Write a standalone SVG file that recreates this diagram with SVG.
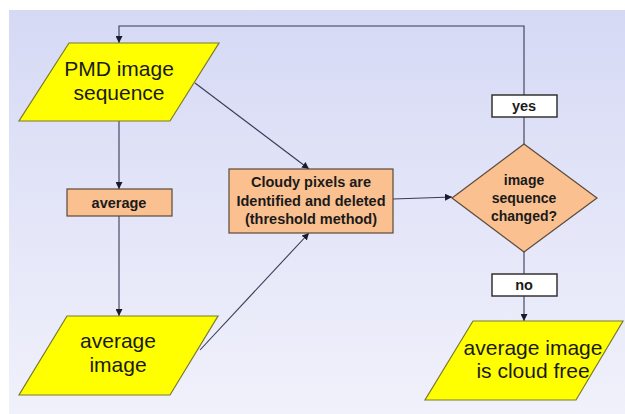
<svg xmlns="http://www.w3.org/2000/svg" width="625" height="414" viewBox="0 0 625 414">
  <defs>
    <linearGradient id="bg" x1="0" y1="0" x2="0" y2="1">
      <stop offset="0" stop-color="#d6d9f5"/>
      <stop offset="1" stop-color="#f1f1fb"/>
    </linearGradient>
    <marker id="arr" viewBox="0 0 10 10" refX="10" refY="5" markerWidth="7" markerHeight="7" orient="auto" markerUnits="userSpaceOnUse">
      <path d="M0,0 L10,5 L0,10 z" fill="#1a1a2e"/>
    </marker>
    <style>
      .io { fill: #ffff00; stroke: #7a7a30; stroke-width: 1.2; }
      .proc { fill: #fac090; stroke: #5a4a3a; stroke-width: 1.2; }
      .lbl { fill: #ffffff; stroke: #333333; stroke-width: 1.5; }
      .conn { fill: none; stroke: #3a3a55; stroke-width: 1.1; }
      .big { font-family: "Liberation Sans", Arial, sans-serif; font-size: 21px; fill: #1a1a1a; text-anchor: middle; }
      .small { font-family: "Liberation Sans", Arial, sans-serif; font-size: 14.5px; font-weight: bold; fill: #1a1a1a; text-anchor: middle; }
    </style>
  </defs>
  <rect x="0" y="0" width="625" height="414" fill="#ffffff"/>
  <rect x="9" y="10" width="616" height="404" fill="url(#bg)"/>

  <g id="connectors">
    <polyline class="conn" points="524,144 524,26 119,26 119,43" marker-end="url(#arr)"/>
    <line class="conn" x1="119" y1="121" x2="119" y2="189" marker-end="url(#arr)"/>
    <line class="conn" x1="119" y1="216" x2="119" y2="316" marker-end="url(#arr)"/>
    <line class="conn" x1="195" y1="83" x2="309" y2="169" marker-end="url(#arr)"/>
    <line class="conn" x1="200" y1="350" x2="309" y2="233" marker-end="url(#arr)"/>
    <line class="conn" x1="393" y1="199" x2="452" y2="197" marker-end="url(#arr)"/>
    <line class="conn" x1="524" y1="252" x2="524" y2="321" marker-end="url(#arr)"/>
  </g>

  <g id="pmd">
    <polygon class="io" points="69,43 219,43 170,121 19,121"/>
    <text class="big" x="119" y="76">PMD image</text>
    <text class="big" x="119" y="100">sequence</text>
  </g>

  <g id="average">
    <rect class="proc" x="67" y="189" width="105" height="27"/>
    <text class="small" x="119" y="208">average</text>
  </g>

  <g id="average-image">
    <polygon class="io" points="67,316 218,316 170,395 19,395"/>
    <text class="big" x="118" y="348">average</text>
    <text class="big" x="118" y="372">image</text>
  </g>

  <g id="cloudy">
    <rect class="proc" x="229" y="169" width="164" height="64"/>
    <text class="small" x="311" y="187">Cloudy pixels are</text>
    <text class="small" x="311" y="206">Identified and deleted</text>
    <text class="small" x="311" y="224">(threshold method)</text>
  </g>

  <g id="decision">
    <polygon class="proc" points="524,144 597,198 524,252 452,198"/>
    <text class="small" x="524" y="185" style="font-size:14px">image</text>
    <text class="small" x="524" y="203" style="font-size:14px">sequence</text>
    <text class="small" x="524" y="221" style="font-size:14px">changed?</text>
  </g>

  <g id="yes">
    <rect class="lbl" x="492" y="95" width="65" height="22"/>
    <text class="small" x="524" y="111">yes</text>
  </g>

  <g id="no">
    <rect class="lbl" x="492" y="274" width="65" height="22"/>
    <text class="small" x="524" y="290">no</text>
  </g>

  <g id="cloud-free">
    <polygon class="io" points="473,321 623,321 576,400 425,400"/>
    <text class="big" x="533" y="355">average image</text>
    <text class="big" x="533" y="378">is cloud free</text>
  </g>
</svg>
